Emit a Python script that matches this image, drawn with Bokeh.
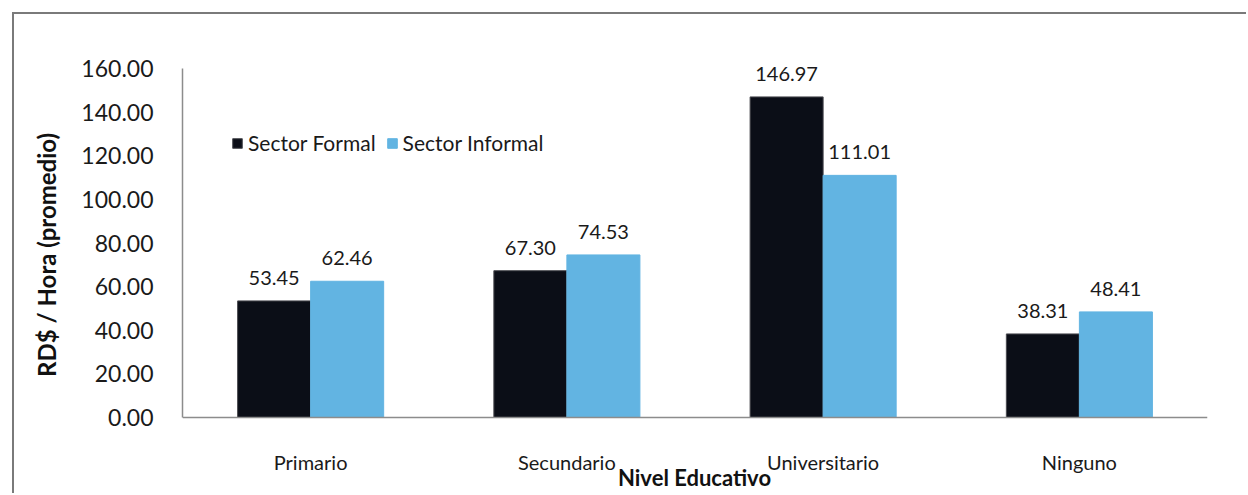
from bokeh.plotting import figure
from bokeh.models import (ColumnDataSource, FactorRange, Range1d, NumeralTickFormatter, LabelSet,
                          Label, Legend, LegendItem, FixedTicker, Span)
from bokeh.core.properties import value
from bokeh.transform import dodge
from bokeh.embed import file_html
from bokeh.resources import INLINE

categories = ["Primario", "Secundario", "Universitario", "Ninguno"]
formal = [53.45, 67.30, 146.97, 38.31]
informal = [62.46, 74.53, 111.01, 48.41]
series_names = ["Sector Formal", "Sector Informal"]
y_ticks = [0, 20, 40, 60, 80, 100, 120, 140, 160]

FONT = "Lato"
BLACK = "#0b0e17"
BLUE = "#62b4e2"

src = ColumnDataSource(dict(
    cat=categories,
    formal=formal,
    informal=informal,
    formal_txt=["%.2f" % v for v in formal],
    informal_txt=["%.2f" % v for v in informal],
))

# layout: canvas starts at (14, 14) of the window (margin + css border).
# The frame spans the whole canvas height so that labels below the axis are not clipped;
# value 0 sits 403 px below canvas top and 160 sits 54 px below it.
H = 481
px_per_unit = (403 - 54) / 160.0
y_top = 160 + 54 / px_per_unit
y_bot = -(H - 403) / px_per_unit

p = figure(width=1234, height=H, x_range=FactorRange(*categories, range_padding=0),
           y_range=Range1d(y_bot, y_top), output_backend="svg", toolbar_location=None,
           min_border_left=168, min_border_right=41, min_border_top=0, min_border_bottom=0)
p.margin = (12, 0, 0, 12)
p.styles = {"border-left": "2px solid #7a7a7a", "border-top": "2px solid #7a7a7a"}
p.background_fill_color = "white"
p.border_fill_color = "white"
p.outline_line_color = None
p.grid.visible = False
p.xaxis.visible = False

bw = 0.285
r1 = p.vbar(x=dodge("cat", -bw / 2, range=p.x_range), top="formal", width=bw, source=src,
            fill_color=BLACK, line_color="#4a4a50", line_width=1)
r2 = p.vbar(x=dodge("cat", bw / 2, range=p.x_range), top="informal", width=bw, source=src,
            fill_color=BLUE, line_color=BLUE, line_width=1)

for col, txt, off in (("formal", "formal_txt", -bw / 2), ("informal", "informal_txt", bw / 2)):
    p.add_layout(LabelSet(x=dodge("cat", off, range=p.x_range), y=col, text=txt, source=src,
                          text_align="center", text_baseline="bottom", y_offset=16,
                          text_font=value(FONT), text_font_size="20px", text_color="#1a1a1a"))

# x axis line at zero and category labels
p.add_layout(Span(location=0, dimension="width", line_color="#8c8c8c", line_width=1.5))
p.text(x="cat", y=0, text="cat", source=src, y_offset=44, text_align="center",
       text_baseline="middle", text_font=value(FONT), text_font_size="20px",
       text_color="#1a1a1a")

# y axis
p.yaxis.bounds = (0, 160)
p.yaxis.ticker = FixedTicker(ticks=y_ticks)
p.yaxis.formatter = NumeralTickFormatter(format="0.00")
p.yaxis.major_tick_line_color = None
p.yaxis.minor_tick_line_color = None
p.yaxis.axis_line_color = "#8c8c8c"
p.yaxis.axis_line_width = 1.5
p.yaxis.major_label_text_font = FONT
p.yaxis.major_label_text_font_size = "23px"
p.yaxis.major_label_text_color = "#1a1a1a"
p.yaxis.major_label_standoff = 23
p.yaxis.axis_label = "RD$ / Hora (promedio)"
p.yaxis.axis_label_text_font = FONT
p.yaxis.axis_label_text_font_style = "bold"
p.yaxis.axis_label_text_font_size = "24px"
p.yaxis.axis_label_text_color = "#111111"
p.yaxis.axis_label_standoff = 17

# x axis title near the bottom edge, as in the reference
p.add_layout(Label(x=512, y=18, x_units="screen", y_units="screen", text="Nivel Educativo",
                   text_align="center", text_baseline="middle", text_font=FONT,
                   text_font_style="bold", text_font_size="22px", text_color="#111111"))

legend = Legend(items=[LegendItem(label=series_names[0], renderers=[r1]),
                       LegendItem(label=series_names[1], renderers=[r2])],
                location=(49, 340), orientation="horizontal",
                padding=0, margin=0, spacing=10, glyph_width=12, glyph_height=12,
                label_standoff=5, label_text_font=FONT, label_text_font_size="21px",
                label_text_color="#1a1a1a", border_line_color=None,
                background_fill_alpha=0)
p.add_layout(legend)

open("out.html", "w").write(file_html(p, INLINE))
